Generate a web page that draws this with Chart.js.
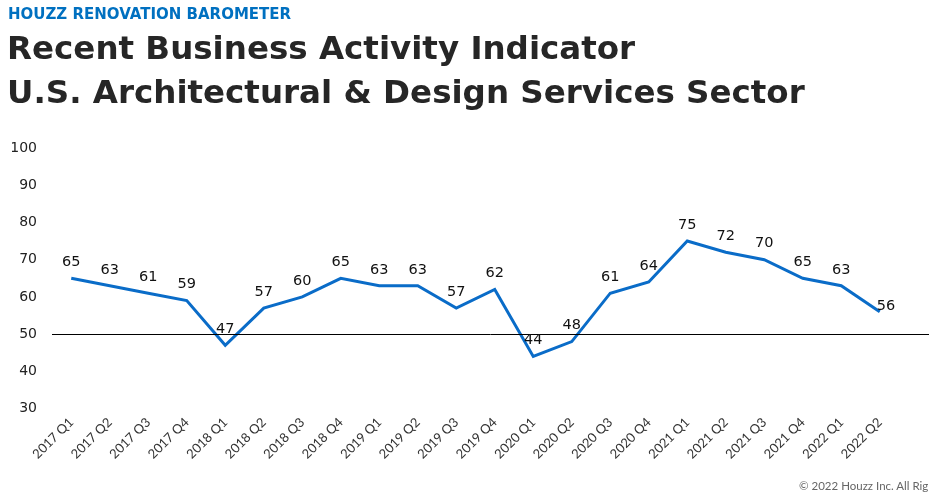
<!DOCTYPE html>
<html>
<head>
<meta charset="utf-8">
<script src="https://cdn.jsdelivr.net/npm/chart.js@4.4.1/dist/chart.umd.min.js"></script>
<style>
  html, body { margin: 0; padding: 0; width: 929px; height: 498px; overflow: hidden; background: #fff; }
  #kicker { position: absolute; left: 8px; top: 5px; font: bold 15px "DejaVu Sans", sans-serif; color: #0070c0; }
  #titulo { position: absolute; left: 7px; top: 26px; font: bold 32.5px "DejaVu Sans", sans-serif; color: #262626; line-height: 44px; }
  #copy { position: absolute; left: 799px; top: 479px; font: 11.5px Lato, sans-serif; color: #666; white-space: nowrap; }
  #wrap { position: absolute; left: 0; top: 0; width: 929px; height: 498px; }
</style>
</head>
<body>
<div id="wrap"><canvas id="grafico" width="929" height="498"></canvas></div>
<div id="kicker">HOUZZ RENOVATION BAROMETER</div>
<div id="titulo">Recent Business Activity Indicator<br>U.S. Architectural &amp; Design Services Sector</div>
<div id="copy">© 2022 Houzz Inc. All Rights Reserved.</div>
<script>
const trimestres = ['2017 Q1','2017 Q2','2017 Q3','2017 Q4','2018 Q1','2018 Q2','2018 Q3','2018 Q4',
  '2019 Q1','2019 Q2','2019 Q3','2019 Q4','2020 Q1','2020 Q2','2020 Q3','2020 Q4',
  '2021 Q1','2021 Q2','2021 Q3','2021 Q4','2022 Q1','2022 Q2'];
const indicador = [65,63,61,59,47,57,60,65,63,63,57,62,44,48,61,64,75,72,70,65,63,56];
const yMin = 30, yMax = 100, yPaso = 10;
const lineaBase = 50;

// linea negra en 50 y etiquetas de valores
const extras = {
  id: 'extras',
  afterDatasetsDraw(chart) {
    const ctx = chart.ctx;
    const y = chart.scales.y.getPixelForValue(lineaBase);
    ctx.save();
    ctx.strokeStyle = '#000';
    ctx.lineWidth = 1;
    ctx.beginPath();
    ctx.moveTo(chart.chartArea.left, Math.round(y) + 0.5);
    ctx.lineTo(chart.width, Math.round(y) + 0.5);
    ctx.stroke();

    ctx.font = '14.5px "DejaVu Sans", sans-serif';
    ctx.fillStyle = '#111';
    ctx.textBaseline = 'middle';
    const puntos = chart.getDatasetMeta(0).data;
    puntos.forEach((p, i) => {
      const txt = String(indicador[i]);
      if (i === puntos.length - 1) {
        ctx.textAlign = 'left';
        ctx.fillText(txt, p.x - 3, p.y - 6);
      } else {
        ctx.textAlign = 'center';
        ctx.fillText(txt, p.x, p.y - 16);
      }
    });
    ctx.restore();
  }
};

new Chart(document.getElementById('grafico'), {
  type: 'line',
  data: {
    labels: trimestres,
    datasets: [{
      data: indicador,
      borderColor: '#0a6cc8',
      borderWidth: 3,
      pointRadius: 0,
      tension: 0,
      fill: false
    }]
  },
  options: {
    responsive: false,
    animation: false,
    layout: { padding: { left: 12, right: 30, top: 148, bottom: 30 } },
    plugins: { legend: { display: false }, tooltip: { enabled: false } },
    scales: {
      x: {
        offset: true,
        grid: { display: false, drawTicks: false },
        border: { display: false },
        ticks: {
          maxRotation: 45, minRotation: 45, autoSkip: false, padding: 6,
          color: '#333', font: { family: 'Lato', size: 13 }
        },
        afterFit(scale) {
          // que las etiquetas giradas no empujen el area del grafico
          scale.paddingLeft = 0;
          scale.paddingRight = 0;
        }
      },
      y: {
        min: yMin, max: yMax,
        grid: { display: false, drawTicks: false },
        border: { display: false },
        ticks: {
          stepSize: yPaso, padding: 15,
          color: '#222', font: { family: 'DejaVu Sans', size: 14 }
        },
        afterFit(scale) {
          scale.width = 40; // ancho fijo del eje
        }
      }
    }
  },
  plugins: [extras]
});
</script>
</body>
</html>
